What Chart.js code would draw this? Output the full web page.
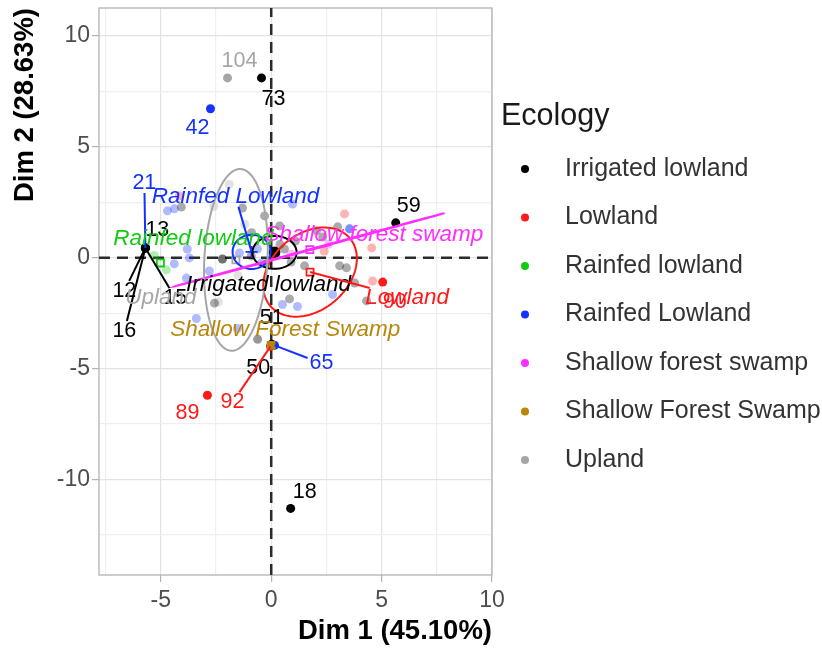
<!DOCTYPE html>
<html>
<head>
<meta charset="utf-8">
<script src="https://cdn.jsdelivr.net/npm/chart.js@4.4.1/dist/chart.umd.min.js"></script>
<style>
  html, body { margin: 0; padding: 0; background: #fff; }
</style>
</head>
<body>
<canvas id="pcaChart" width="822" height="650"></canvas>
<script>
// グループ
const ecology = ['Irrigated lowland', 'Lowland', 'Rainfed lowland', 'Rainfed Lowland',
                 'Shallow forest swamp', 'Shallow Forest Swamp', 'Upland'];

// 個体の座標 (Dim1, Dim2)、グループ番号、ラベル（空文字 = ラベルなし）
const indDim1 = [
  -4.07, -1.30, -0.30, 0.38, 2.05, 3.01, 2.33, 1.51, 3.10, 3.41, 3.78, 0.83, 4.32, -2.57, -0.62, -2.21, -2.21, 0.60, -0.17, -0.90, 1.10, -0.89, 0.40, 0.90,
  -0.44, 5.64, 0.88, 0.00, 0.02, -5.70, -5.70, -5.70, -5.70,
  3.32, 4.55, 4.59, -4.16, 2.40,
  -2.89, 5.05, -0.03,
  -5.30, -4.75,
  -4.70, -4.39, -3.80, -3.71, -4.39, -2.80, -3.84, -3.39, -1.53, 0.51, 1.19, 2.78, 0.97, 3.55, 3.55, -1.44, -0.44, -0.62,
  -2.75, 0.15, -5.70,
  0.90, 2.60,
  0.00,
  -2.60, -1.20, -2.40, -0.60, -1.50, -1.90,
  -1.98
];
const indDim2 = [
  2.28, 2.24, 1.88, 1.43, 1.21, 1.39, 0.93, -0.37, -0.37, -0.46, -1.14, -1.86, -1.95, -2.05, -3.67, -0.06, -0.06, 0.39, -0.24, 0.08, 0.75, 1.12, 0.60, -0.20,
  8.10, 1.57, -11.30, -3.95, -3.90, 0.44, 0.44, 0.44, 0.44,
  1.97, 0.44, -1.05, 2.79, 0.30,
  -6.20, -1.10, -4.00,
  0.10, -0.55,
  2.11, 2.20, 0.39, -0.01, -0.28, -0.60, -0.92, -2.74, -3.19, -2.11, -2.20, -1.66, 2.42, 1.30, 1.30, 0.21, -0.24, 0.39,
  6.71, -3.95, 0.44,
  0.15, 0.60,
  -3.95,
  2.30, 1.50, -2.00, -3.70, -0.80, 3.30,
  8.10
];
const indGroup = [
  0, 0, 0, 0, 0, 0, 0, 0, 0, 0, 0, 0, 0, 0, 0, 0, 0, 0, 0, 0, 0, 0, 0, 0,
  0, 0, 0, 0, 0, 0, 0, 0, 0,
  1, 1, 1, 1, 1,
  1, 1, 1,
  2, 2,
  3, 3, 3, 3, 3, 3, 3, 3, 3, 3, 3, 3, 3, 3, 3, 3, 3, 3,
  3, 3, 3,
  4, 4,
  5,
  6, 6, 6, 6, 6, 6,
  6
];
const indLabel = [
  '', '', '', '', '', '', '', '', '', '', '', '', '', '', '', '', '', '', '', '', '', '', '', '',
  '73', '59', '18', '50', '51', '13', '12', '16', '15',
  '', '', '', '', '',
  '89', '90', '92',
  '', '',
  '', '', '', '', '', '', '', '', '', '', '', '', '', '', '', '', '', '',
  '42', '65', '21',
  '', '',
  '',
  '', '', '', '', '', '',
  '104'
];

// グループ平均
const meanDim1 = [0.15, 1.76, -5.02, -0.89, 1.75, 0.00, -1.60];
const meanDim2 = [0.24, -0.65, -0.24, 0.26, 0.36, -3.95, -0.10];

// 信頼楕円（長半径, 短半径, 角度[度]）null = 描かない
const ellipseA = [1.00, 2.36, null, 0.86, 6.32, null, 4.10];
const ellipseB = [0.74, 1.72, null, 0.77, 0.02, null, 1.43];
const ellipseAngle = [0, 40, null, 0, 15.1, null, 87];

const xTickLabels = [-5, 0, 5, 10];
const yTickLabels = [-10, -5, 0, 5, 10];

// ---- スタイル ----
const FONT = "'Liberation Sans', Arial, sans-serif";
const groupColors = ['#000000', '#FF1A1A', '#11CC11', '#1432FF', '#FF2EFF', '#B8860B', '#A6A6A6'];
const meanStyles = ['circle', 'rect', 'rect', 'cross', 'rect', 'rect', 'rect'];
const meanFilled = [true, false, false, false, false, true, false];
const FAINT_ALPHA = 0.33;

// ラベル位置（点からのピクセルずれ）
const labelNudge = {
  '104': [12, -17], '73': [12, 21], '42': [-13, 19], '59': [13, -17], '18': [14, -16],
  '89': [-20, 18], '90': [12, 20], '92': [-38, 56], '65': [47, 18], '50': [-13, 23],
  '51': [0, -26], '21': [-1, -65], '13': [12, -18], '12': [-21, 43], '16': [-21, 83], '15': [30, 50]
};
const groupLabelNudge = [[-6, 32], [97, 26], [33, -24], [-16, -55], [64, -15], [14, -16], [-75, 38]];
const noSegment = ['Irrigated lowland', 'Upland', 'Rainfed lowland'];

function hexToRgba(hex, a) {
  const n = parseInt(hex.slice(1), 16);
  return `rgba(${(n >> 16) & 255}, ${(n >> 8) & 255}, ${n & 255}, ${a})`;
}

// データセット作成
const datasets = [];
ecology.forEach((name, g) => {
  const faint = [], labelled = [];
  indDim1.forEach((x, i) => {
    if (indGroup[i] !== g) return;
    (indLabel[i] === '' ? faint : labelled).push({ x: x, y: indDim2[i] });
  });
  datasets.push({
    label: name + ' (ind)',
    data: faint,
    backgroundColor: hexToRgba(groupColors[g], FAINT_ALPHA),
    borderWidth: 0,
    pointRadius: 4.5,
    order: 3
  });
  datasets.push({
    label: name,
    data: labelled,
    backgroundColor: groupColors[g],
    borderWidth: 0,
    pointRadius: 4.5,
    order: 2
  });
  datasets.push({
    label: name + ' (mean)',
    data: [{ x: meanDim1[g], y: meanDim2[g] }],
    pointStyle: meanStyles[g],
    backgroundColor: meanFilled[g] ? groupColors[g] : 'rgba(0,0,0,0)',
    borderColor: groupColors[g],
    borderWidth: 1.8,
    pointRadius: meanStyles[g] === 'cross' ? 6 : 5,
    order: 1
  });
});

// 背景・原点の破線・枠
const panelPlugin = {
  id: 'panel',
  beforeDraw(chart) {
    const ctx = chart.ctx;
    ctx.save();
    ctx.fillStyle = '#fff';
    ctx.fillRect(0, 0, chart.width, chart.height);
    ctx.restore();
  },
  beforeDatasetsDraw(chart) {
    const { ctx, chartArea: a, scales: { x, y } } = chart;
    ctx.save();
    ctx.strokeStyle = '#b3b3b3';
    ctx.lineWidth = 1.3;
    ctx.strokeRect(a.left, a.top, a.right - a.left, a.bottom - a.top);
    ctx.strokeStyle = '#2b2b2b';
    ctx.lineWidth = 2.5;
    ctx.setLineDash([11, 7]);
    const x0 = x.getPixelForValue(0), y0 = y.getPixelForValue(0);
    ctx.beginPath();
    ctx.moveTo(a.left, y0); ctx.lineTo(a.right, y0);
    ctx.moveTo(x0, a.bottom); ctx.lineTo(x0, a.top);
    ctx.stroke();
    ctx.restore();
  }
};

// 楕円とラベル
function drawRepelLabel(ctx, text, px, py, nudge, color, font, withSegment) {
  ctx.font = font;
  const cx = px + nudge[0], cy = py + nudge[1];
  const w = ctx.measureText(text).width;
  const hw = w / 2 + 2, hh = 10;
  const dx = cx - px, dy = cy - py;
  const len = Math.hypot(dx, dy);
  if (withSegment && len > 0) {
    const s = Math.min(dx !== 0 ? hw / Math.abs(dx) : Infinity, dy !== 0 ? hh / Math.abs(dy) : Infinity);
    if (s < 1 && (1 - s) * len > 18) {
      ctx.strokeStyle = color;
      ctx.lineWidth = 2;
      ctx.beginPath();
      ctx.moveTo(px, py);
      ctx.lineTo(cx - s * dx, cy - s * dy);
      ctx.stroke();
    }
  }
  ctx.fillStyle = color;
  ctx.textAlign = 'center';
  ctx.textBaseline = 'middle';
  ctx.fillText(text, cx, cy);
}

const overlayPlugin = {
  id: 'overlay',
  afterDatasetsDraw(chart) {
    const { ctx, scales: { x, y } } = chart;
    ctx.save();
    // 楕円
    ecology.forEach((name, g) => {
      if (ellipseA[g] === null) return;
      const th = ellipseAngle[g] * Math.PI / 180;
      ctx.strokeStyle = groupColors[g];
      ctx.lineWidth = 2;
      ctx.beginPath();
      for (let k = 0; k <= 120; k++) {
        const t = k / 120 * 2 * Math.PI;
        const ex = meanDim1[g] + ellipseA[g] * Math.cos(th) * Math.cos(t) - ellipseB[g] * Math.sin(th) * Math.sin(t);
        const ey = meanDim2[g] + ellipseA[g] * Math.sin(th) * Math.cos(t) + ellipseB[g] * Math.cos(th) * Math.sin(t);
        const px = x.getPixelForValue(ex), py = y.getPixelForValue(ey);
        if (k === 0) ctx.moveTo(px, py); else ctx.lineTo(px, py);
      }
      ctx.stroke();
    });
    // 個体ラベル
    indLabel.forEach((lab, i) => {
      if (lab === '') return;
      const px = x.getPixelForValue(indDim1[i]), py = y.getPixelForValue(indDim2[i]);
      drawRepelLabel(ctx, lab, px, py, labelNudge[lab], groupColors[indGroup[i]], `21.5px ${FONT}`, true);
    });
    // グループラベル
    ecology.forEach((name, g) => {
      const px = x.getPixelForValue(meanDim1[g]), py = y.getPixelForValue(meanDim2[g]);
      drawRepelLabel(ctx, name, px, py, groupLabelNudge[g], groupColors[g], `italic 22.5px ${FONT}`, !noSegment.includes(name));
    });
    ctx.restore();
  }
};

// 凡例
const legendPlugin = {
  id: 'ecologyLegend',
  afterDraw(chart) {
    const ctx = chart.ctx;
    ctx.save();
    ctx.textBaseline = 'middle';
    ctx.textAlign = 'left';
    ctx.fillStyle = '#1a1a1a';
    ctx.font = `30.5px ${FONT}`;
    ctx.fillText('Ecology', 501, 117);
    ecology.forEach((name, g) => {
      const yy = 169 + g * 48.5;
      ctx.fillStyle = groupColors[g];
      ctx.beginPath();
      ctx.arc(525, yy, 4, 0, 2 * Math.PI);
      ctx.fill();
      ctx.fillStyle = '#333';
      ctx.font = `25px ${FONT}`;
      ctx.fillText(name, 565, yy);
    });
    ctx.restore();
  }
};

const gridColor = c => (c.tick && c.tick.value % 5 === 0) ? '#e3e3e3' : '#efefef';
const tickColor = c => (c.tick && c.tick.value % 5 === 0) ? '#b3b3b3' : 'rgba(0,0,0,0)';

new Chart(document.getElementById('pcaChart'), {
  type: 'scatter',
  data: { datasets: datasets },
  options: {
    responsive: false,
    animation: false,
    devicePixelRatio: 1,
    layout: { padding: { top: 8, right: 330, bottom: 0, left: 0 } },
    plugins: { legend: { display: false }, tooltip: { enabled: false } },
    scales: {
      x: {
        type: 'linear',
        min: -7.8,
        max: 10,
        afterFit: s => { s.height = 75; s.paddingLeft = 0; s.paddingRight = 0; },
        border: { display: false },
        grid: { color: gridColor, lineWidth: 1.2, tickColor: tickColor, tickLength: 7 },
        ticks: {
          stepSize: 2.5, includeBounds: false, autoSkip: false, maxRotation: 0, padding: 5,
          color: '#4d4d4d', font: { size: 23, family: FONT },
          callback: v => xTickLabels.includes(v) ? String(v) : ''
        },
        title: {
          display: true, text: 'Dim 1 (45.10%)', align: 'end', color: '#000',
          font: { size: 27.5, weight: 'bold', family: FONT }, padding: { top: 0, bottom: 2 }
        }
      },
      y: {
        type: 'linear',
        min: -14.3,
        max: 11.25,
        afterFit: s => { s.width = 99; s.paddingTop = 0; s.paddingBottom = 0; },
        border: { display: false },
        grid: { color: gridColor, lineWidth: 1.2, tickColor: tickColor, tickLength: 7 },
        ticks: {
          stepSize: 2.5, includeBounds: false, autoSkip: false, padding: 2,
          color: '#4d4d4d', font: { size: 23, family: FONT },
          callback: v => yTickLabels.includes(v) ? String(v) : ''
        },
        title: {
          display: true, text: 'Dim 2 (28.63%)', align: 'end', color: '#000',
          font: { size: 27.5, weight: 'bold', family: FONT }, padding: { top: 9, bottom: 0 }
        }
      }
    }
  },
  plugins: [panelPlugin, overlayPlugin, legendPlugin]
});
</script>
</body>
</html>
